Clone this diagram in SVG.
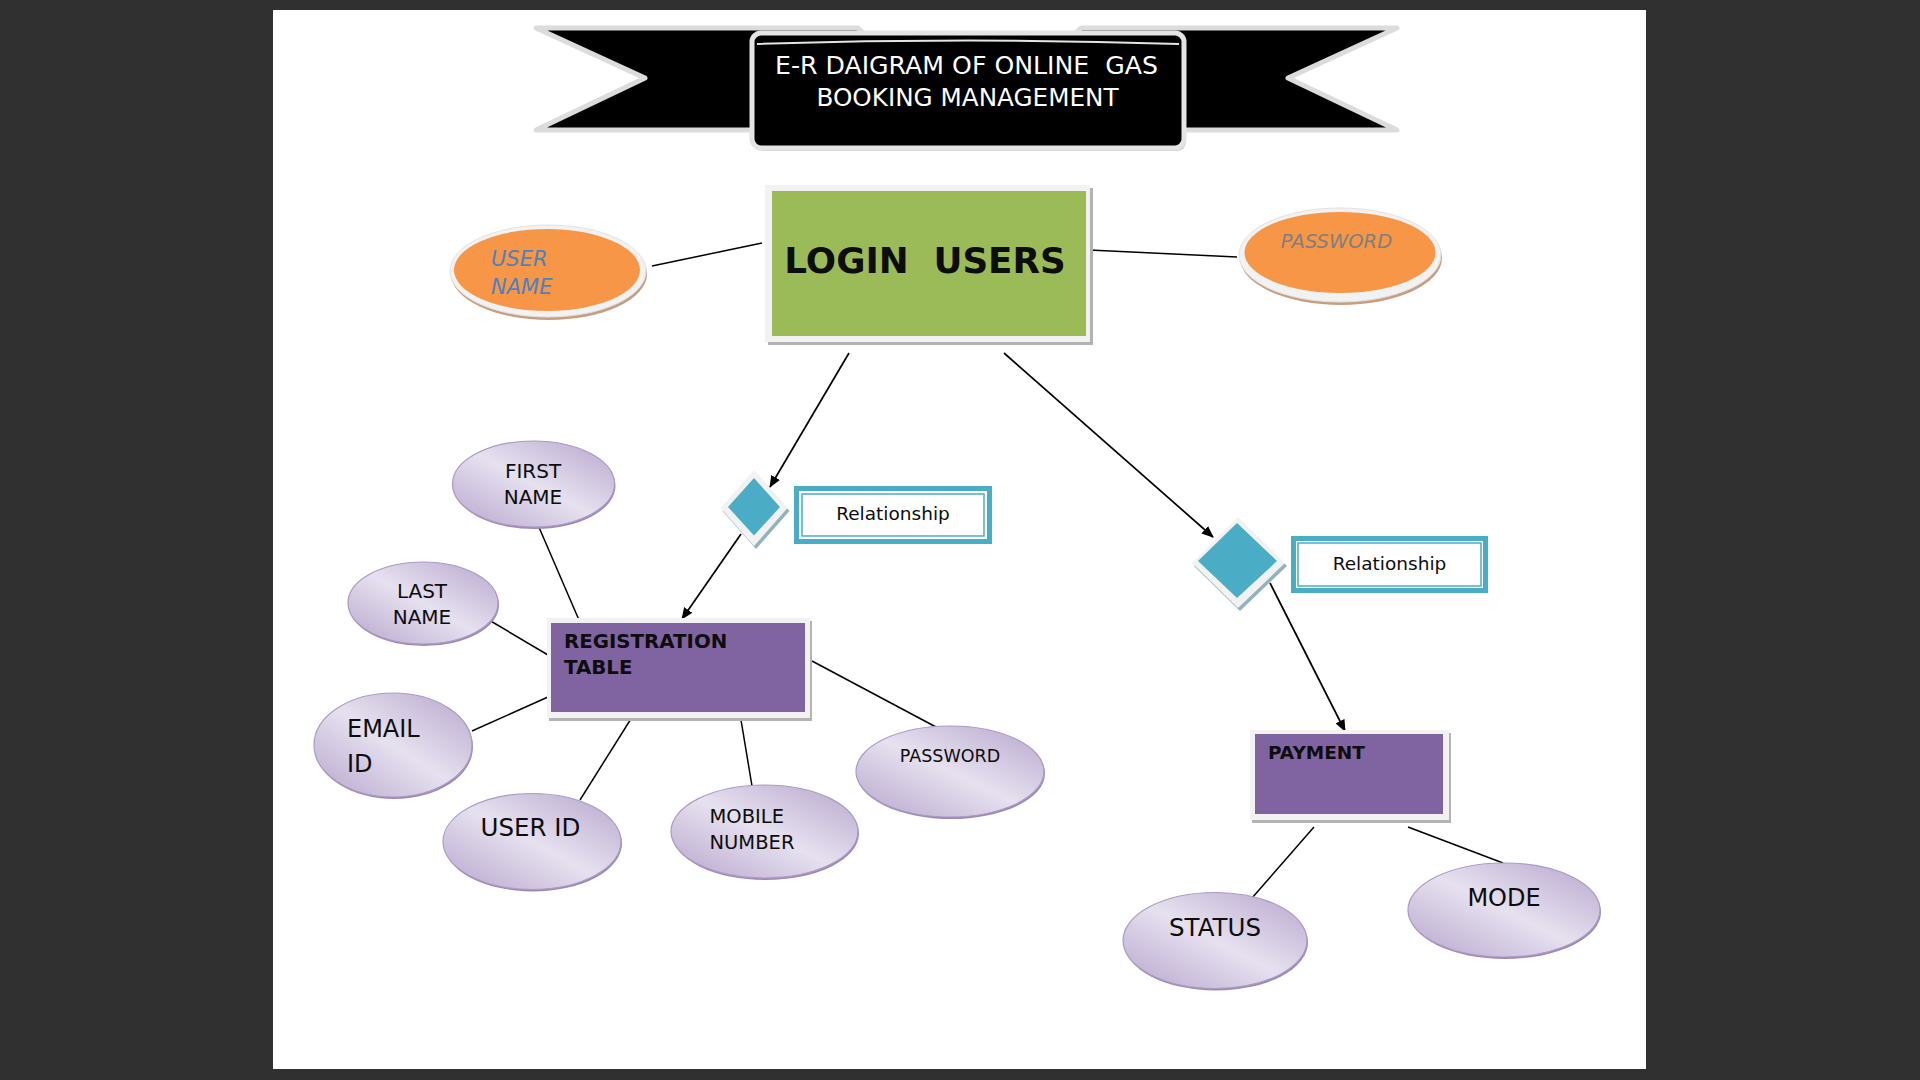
<svg xmlns="http://www.w3.org/2000/svg" width="1920" height="1080" viewBox="0 0 1920 1080">
<style>
text{font-family:"DejaVu Sans","Liberation Sans",Verdana,sans-serif;white-space:pre}
.t-title{fill:#ffffff;font-size:25px}
.t-bold{font-weight:bold;fill:#0d0d0d}
.t-attr{fill:#0d0d0d}
.t-rel{fill:#0d0d0d;font-size:18.5px;text-anchor:middle}
.attr-shadow{fill:#9d89b8}
.attr{fill:url(#lav);stroke:#ab9ac4;stroke-width:1.2}
.frame{fill:#f2f2f2}
.frame-shadow{fill:#b3b3b3}
.purple{fill:#8064a2}
.orange{fill:#f79646}
.ring{fill:#f2f2f2;stroke:#e2e2e2;stroke-width:1}
.ring-shadow{fill:#c79f80}
.dia-shadow{fill:#93b3bc}
.dia-white{fill:#f2f2f2}
.teal{fill:#4bacc6}
.relbox{fill:#ffffff;stroke:#4bacc6;stroke-width:5}
.relinner{fill:none;stroke:#4bacc6;stroke-width:1.5}
.conn{stroke:#000000;stroke-width:1.5;fill:none}
.arr{stroke:#000000;stroke-width:1.7;fill:none;marker-end:url(#ah)}
.banner{fill:#000000;stroke:#dcdcdc;stroke-width:5;stroke-linejoin:round}
</style>
<defs>
<linearGradient id="lav" x1="0" y1="1" x2="1" y2="0">
<stop offset="0" stop-color="#b7a5cd"/>
<stop offset="0.5" stop-color="#e6e1ef"/>
<stop offset="1" stop-color="#b7a5cd"/>
</linearGradient>
<marker id="ah" markerWidth="12" markerHeight="10" refX="11" refY="5" orient="auto" markerUnits="userSpaceOnUse">
<path d="M0,0 L12,5 L0,10 z" fill="#000000"/>
</marker>
</defs>

<rect x="0" y="0" width="1920" height="1080" fill="#303030"/>
<rect x="273" y="10" width="1373" height="1059" fill="#ffffff"/>

<g id="title">
<polygon class="banner" points="536,28 858,28 862,32 862,130 536,130 645,78"/>
<polygon class="banner" points="1397,28 1081,28 1077,32 1077,130 1397,130 1288,78"/>
<rect x="754" y="36" width="432" height="115" rx="9" fill="#c8c8c8"/>
<rect x="752" y="33" width="432" height="115" rx="9" fill="#000000" stroke="#e4e4e4" stroke-width="5"/>
<path d="M757,44 Q968,37 1179,44" fill="none" stroke="#e4e4e4" stroke-width="2"/>
<text class="t-title" x="966.5" y="73.5" text-anchor="middle" textLength="383" lengthAdjust="spacingAndGlyphs">E-R DAIGRAM OF ONLINE  GAS</text>
<text class="t-title" x="967.5" y="106" text-anchor="middle" textLength="302" lengthAdjust="spacingAndGlyphs">BOOKING MANAGEMENT</text>
</g>

<g id="connectors">
<line class="conn" x1="652" y1="266" x2="762" y2="243"/>
<line class="conn" x1="1089" y1="250" x2="1237" y2="257"/>
<line class="arr" x1="849" y1="353" x2="770" y2="487"/>
<line class="arr" x1="1004" y1="353" x2="1213" y2="537"/>
<line class="arr" x1="741" y1="534" x2="682" y2="619"/>
<line class="arr" x1="1270" y1="583" x2="1345" y2="731"/>
<line class="conn" x1="538" y1="525" x2="579" y2="620"/>
<line class="conn" x1="489" y1="620" x2="548" y2="655"/>
<line class="conn" x1="472" y1="731" x2="548" y2="697"/>
<line class="conn" x1="580" y1="800" x2="634" y2="714"/>
<line class="conn" x1="752" y1="786" x2="741" y2="720"/>
<line class="conn" x1="936" y1="727" x2="812" y2="661"/>
<line class="conn" x1="1314" y1="827" x2="1252" y2="898"/>
<line class="conn" x1="1408" y1="827" x2="1503" y2="863"/>
</g>

<g id="login-users">
<rect class="frame-shadow" x="768" y="188" width="325" height="157"/>
<rect class="frame" x="765" y="185" width="325" height="157"/>
<rect x="772" y="191" width="314" height="145" fill="#9bbb59"/>
<text class="t-bold" x="925" y="273" font-size="35.7" text-anchor="middle">LOGIN  USERS</text>
</g>

<g id="user-name">
<ellipse class="ring-shadow" cx="549" cy="274" rx="98" ry="46"/>
<ellipse class="ring" cx="548" cy="271" rx="98" ry="46"/>
<ellipse class="orange" cx="547" cy="270" rx="93" ry="41"/>
<text x="491" y="266" font-size="21" font-style="italic" fill="#4f81bd">USER</text>
<text x="491" y="294" font-size="21" font-style="italic" fill="#4f81bd">NAME</text>
</g>

<g id="password-login">
<ellipse class="ring-shadow" cx="1341" cy="258" rx="101" ry="47"/>
<ellipse class="ring" cx="1340" cy="255" rx="101" ry="47"/>
<ellipse class="orange" cx="1340" cy="252.5" rx="95.5" ry="40.5"/>
<text x="1336.5" y="248" font-size="19.5" font-style="italic" fill="#7f7f7f" text-anchor="middle">PASSWORD</text>
</g>

<g id="relationship-1">
<polygon class="dia-shadow" points="756,473 789.5,511 756,549 722.5,511"/>
<polygon class="dia-white" points="754,470 787.5,508 754,546 720.5,508"/>
<polygon class="teal" points="754,478 780,507 754,535.5 728,507"/>
<rect class="relbox" x="796.5" y="488.5" width="193" height="53"/>
<rect class="relinner" x="802" y="494" width="182" height="42"/>
<text class="t-rel" x="893" y="520">Relationship</text>
</g>

<g id="relationship-2">
<polygon class="dia-shadow" points="1240,520 1287,566 1240,611 1194,566"/>
<polygon class="dia-white" points="1238,517 1285,563 1238,608 1192,563"/>
<polygon class="teal" points="1237,523 1277,561 1237,598 1198,561"/>
<rect class="relbox" x="1293.5" y="538.5" width="192" height="52"/>
<rect class="relinner" x="1298" y="543" width="183" height="43"/>
<text class="t-rel" x="1389.5" y="570">Relationship</text>
</g>

<g id="registration-table">
<rect class="frame-shadow" x="549" y="621" width="263" height="100"/>
<rect class="frame" x="547" y="618" width="263" height="100"/>
<rect class="purple" x="551" y="623" width="254" height="89"/>
<text class="t-bold" x="564" y="648" font-size="19.8">REGISTRATION</text>
<text class="t-bold" x="564" y="674" font-size="19.8">TABLE</text>
</g>

<g id="first-name">
<ellipse class="attr-shadow" cx="534.5" cy="486" rx="81" ry="43"/>
<ellipse class="attr" cx="533.5" cy="484" rx="81" ry="43"/>
<text class="t-attr" x="533" y="478" font-size="20" text-anchor="middle">FIRST</text>
<text class="t-attr" x="533" y="504" font-size="20" text-anchor="middle">NAME</text>
</g>

<g id="last-name">
<ellipse class="attr-shadow" cx="424" cy="605" rx="75" ry="41"/>
<ellipse class="attr" cx="423" cy="603" rx="75" ry="41"/>
<text class="t-attr" x="422" y="598" font-size="20" text-anchor="middle">LAST</text>
<text class="t-attr" x="422" y="624" font-size="20" text-anchor="middle">NAME</text>
</g>

<g id="email-id">
<ellipse class="attr-shadow" cx="394" cy="747" rx="79" ry="52"/>
<ellipse class="attr" cx="393" cy="745" rx="79" ry="52"/>
<text class="t-attr" x="347" y="737" font-size="24">EMAIL</text>
<text class="t-attr" x="347" y="772" font-size="24">ID</text>
</g>

<g id="user-id">
<ellipse class="attr-shadow" cx="533" cy="843.5" rx="89" ry="48"/>
<ellipse class="attr" cx="532" cy="841.5" rx="89" ry="48"/>
<text class="t-attr" x="530.5" y="836" font-size="24.5" text-anchor="middle">USER ID</text>
</g>

<g id="mobile-number">
<ellipse class="attr-shadow" cx="765.5" cy="833.5" rx="93.5" ry="46.5"/>
<ellipse class="attr" cx="764.5" cy="831.5" rx="93.5" ry="46.5"/>
<text class="t-attr" x="709.5" y="823" font-size="19.5">MOBILE</text>
<text class="t-attr" x="709.5" y="849" font-size="19.5">NUMBER</text>
</g>

<g id="password-reg">
<ellipse class="attr-shadow" cx="951" cy="773.5" rx="94" ry="45.5"/>
<ellipse class="attr" cx="950" cy="771.5" rx="94" ry="45.5"/>
<text class="t-attr" x="950" y="762" font-size="17.5" text-anchor="middle">PASSWORD</text>
</g>

<g id="payment">
<rect class="frame-shadow" x="1252" y="733" width="199" height="90"/>
<rect class="frame" x="1250" y="730" width="199" height="90"/>
<rect class="purple" x="1255" y="734" width="188" height="80"/>
<text class="t-bold" x="1268" y="759" font-size="18.5">PAYMENT</text>
</g>

<g id="status">
<ellipse class="attr-shadow" cx="1216" cy="942.5" rx="92" ry="48"/>
<ellipse class="attr" cx="1215" cy="940.5" rx="92" ry="48"/>
<text class="t-attr" x="1215" y="936" font-size="24.5" text-anchor="middle">STATUS</text>
</g>

<g id="mode">
<ellipse class="attr-shadow" cx="1505" cy="912" rx="96" ry="47"/>
<ellipse class="attr" cx="1504" cy="910" rx="96" ry="47"/>
<text class="t-attr" x="1504" y="906" font-size="24" text-anchor="middle">MODE</text>
</g>
</svg>
